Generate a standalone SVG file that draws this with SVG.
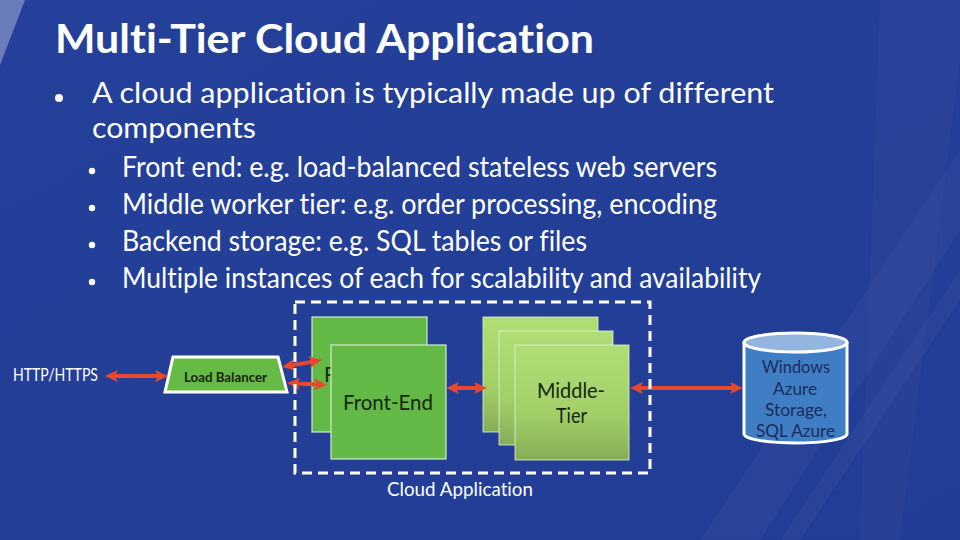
<svg xmlns="http://www.w3.org/2000/svg" width="960" height="540" viewBox="0 0 960 540">
  <defs>
    <style>
      text { font-variant-ligatures: none; font-feature-settings: "liga" 0, "clig" 0; }
      .w { fill: #ffffff; font-family: Lato, "Open Sans", "Liberation Sans", sans-serif; }
      .title { font-size: 40px; font-weight: bold; }
      .l1 { font-size: 29px; }
      .l2 { font-size: 28px; }
      .dark { fill: #15250c; font-family: Lato, "Open Sans", "Liberation Sans", sans-serif; }
      .box { font-size: 21px; }
      .cyl { fill: #1b2b5c; font-family: Lato, "Open Sans", "Liberation Sans", sans-serif; font-size: 17px; text-anchor: middle; }
      .fe { fill: #63b946; stroke: #d6ecc8; stroke-width: 1.2; }
      .mt { fill: url(#mtGrad); stroke: #e4f2d2; stroke-width: 0.8; }
      .arrow { stroke: #e8482d; stroke-width: 4; fill: none; marker-start: url(#ah); marker-end: url(#ah); }
    </style>
    <linearGradient id="bg" x1="0" y1="0" x2="1" y2="1">
      <stop offset="0" stop-color="#24409a"/>
      <stop offset="1" stop-color="#223d94"/>
    </linearGradient>
    <linearGradient id="mtGrad" x1="0" y1="0" x2="0" y2="1">
      <stop offset="0" stop-color="#b0dd74"/>
      <stop offset="0.6" stop-color="#a2cf68"/>
      <stop offset="1" stop-color="#86ad56"/>
    </linearGradient>
    <marker id="ah" viewBox="0 0 13 12" markerWidth="13" markerHeight="12" refX="5" refY="6" orient="auto-start-reverse" markerUnits="userSpaceOnUse">
      <path d="M0,0 L13,6 L0,12 L3,6 z" fill="#e8482d"/>
    </marker>
  </defs>

  <!-- background -->
  <rect x="0" y="0" width="960" height="540" fill="url(#bg)"/>
  <polygon points="0,0 25,0 0,65" fill="#ffffff" opacity="0.32"/>
  <polygon points="880,0 960,0 960,60 900,540 860,540" fill="#ffffff" opacity="0.025"/>
  <polygon points="700,540 760,540 960,230 960,150" fill="#ffffff" opacity="0.03"/>
  <polygon points="780,540 800,540 960,300 960,270" fill="#ffffff" opacity="0.03"/>

  <!-- slide text -->
  <text class="w title" x="55" y="53" textLength="539" lengthAdjust="spacingAndGlyphs">Multi-Tier Cloud Application</text>
  <circle cx="59" cy="98" r="4" fill="#ffffff"/>
  <text class="w l1" x="92" y="103" textLength="682" lengthAdjust="spacingAndGlyphs">A cloud application is typically made up of different</text>
  <text class="w l1" x="92" y="138" textLength="164" lengthAdjust="spacingAndGlyphs">components</text>
  <circle cx="92" cy="171" r="3.2" fill="#ffffff"/>
  <text class="w l2" x="122" y="177" textLength="595" lengthAdjust="spacingAndGlyphs">Front end: e.g. load-balanced stateless web servers</text>
  <circle cx="92" cy="208" r="3.2" fill="#ffffff"/>
  <text class="w l2" x="122" y="214" textLength="595" lengthAdjust="spacingAndGlyphs">Middle worker tier: e.g. order processing, encoding</text>
  <circle cx="92" cy="245" r="3.2" fill="#ffffff"/>
  <text class="w l2" x="122" y="251" textLength="465" lengthAdjust="spacingAndGlyphs">Backend storage: e.g. SQL tables or files</text>
  <circle cx="92" cy="282" r="3.2" fill="#ffffff"/>
  <text class="w l2" x="122" y="288" textLength="639" lengthAdjust="spacingAndGlyphs">Multiple instances of each for scalability and availability</text>

  <!-- nodes -->
  <g id="http">
    <text class="w" x="13" y="381" font-size="17" textLength="85" lengthAdjust="spacingAndGlyphs">HTTP/HTTPS</text>
  </g>

  <g id="load-balancer">
    <polygon points="173,357 278,357 287,392 165,392" fill="#66bb46" stroke="#ffffff" stroke-width="3" stroke-linejoin="miter"/>
    <text class="dark" x="184" y="382" font-size="13" font-weight="bold" textLength="83" lengthAdjust="spacingAndGlyphs">Load Balancer</text>
  </g>

  <g id="front-end-1">
    <rect class="fe" x="312" y="317" width="115" height="115"/>
    <text class="dark box" x="324" y="382" textLength="90" lengthAdjust="spacingAndGlyphs">Front-End</text>
  </g>
  <g id="front-end-2">
    <rect class="fe" x="331" y="345" width="115" height="114"/>
    <text class="dark box" x="343" y="410" textLength="90" lengthAdjust="spacingAndGlyphs">Front-End</text>
  </g>

  <g id="middle-tier-1">
    <rect class="mt" x="483" y="317" width="115" height="115"/>
  </g>
  <g id="middle-tier-2">
    <rect class="mt" x="499" y="331" width="114" height="114"/>
  </g>
  <g id="middle-tier-3">
    <rect class="mt" x="515" y="345" width="114" height="115"/>
    <text class="dark box" x="537" y="398" font-size="20" textLength="68" lengthAdjust="spacingAndGlyphs">Middle-</text>
    <text class="dark box" x="556" y="423" font-size="20" textLength="31" lengthAdjust="spacingAndGlyphs">Tier</text>
  </g>

  <g id="storage">
    <path d="M744,342.5 V434 A51.5,9 0 0 0 847,434 V342.5 A51.5,9 0 0 0 744,342.5 Z" fill="#3f7ec4" stroke="#ffffff" stroke-width="3"/>
    <ellipse cx="795.5" cy="342.5" rx="51.5" ry="9.5" fill="#93b5e0" stroke="#ffffff" stroke-width="3"/>
    <text class="cyl" x="796" y="373" textLength="68" lengthAdjust="spacingAndGlyphs">Windows</text>
    <text class="cyl" x="795" y="395" textLength="44" lengthAdjust="spacingAndGlyphs">Azure</text>
    <text class="cyl" x="796" y="416" textLength="62" lengthAdjust="spacingAndGlyphs">Storage,</text>
    <text class="cyl" x="795.5" y="437" textLength="79" lengthAdjust="spacingAndGlyphs">SQL Azure</text>
  </g>

  <!-- connectors -->
  <g id="connectors">
    <line class="arrow" x1="113" y1="376" x2="160" y2="376"/>
    <line class="arrow" x1="289.9" y1="365.6" x2="314.1" y2="361.4"/>
    <line class="arrow" x1="295" y1="383.4" x2="319" y2="384.6"/>
    <line class="arrow" x1="454" y1="388" x2="479" y2="388"/>
    <line class="arrow" x1="638" y1="388" x2="735" y2="388"/>
  </g>

  <g id="cloud-application">
    <rect x="295" y="302" width="355" height="171" fill="none" stroke="#ffffff" stroke-width="3" stroke-dasharray="10,6"/>
    <text class="w" x="387" y="496" font-size="20" textLength="146" lengthAdjust="spacingAndGlyphs">Cloud Application</text>
  </g>
</svg>
